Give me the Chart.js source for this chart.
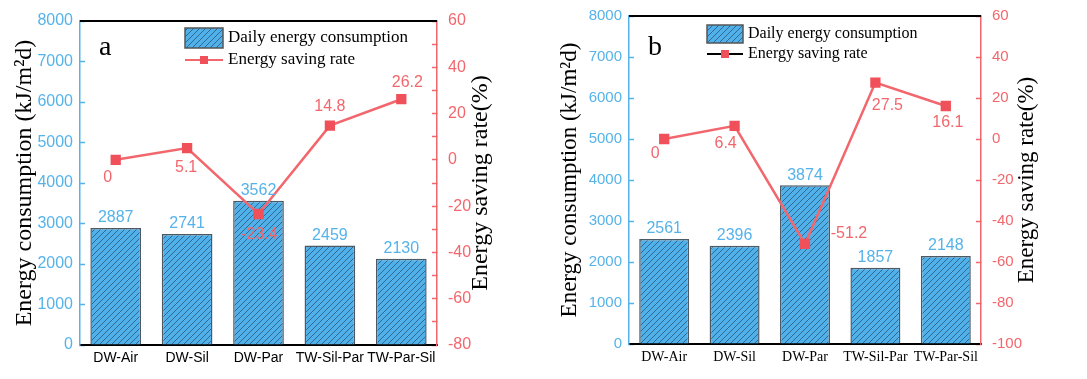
<!DOCTYPE html>
<html>
<head>
<meta charset="utf-8">
<script src="https://cdn.jsdelivr.net/npm/chart.js@4"></script>
<style>
  body { margin: 0; background: #fff; }
  .panel { position: absolute; top: 0; }
</style>
</head>
<body>
<div class="panel" style="left:0"><canvas id="chartA" width="540" height="379"></canvas></div>
<div class="panel" style="left:540px"><canvas id="chartB" width="547" height="379"></canvas></div>
<script>
const categories = ["DW-Air", "DW-Sil", "DW-Par", "TW-Sil-Par", "TW-Par-Sil"];

// panel a
const energyA = [2887, 2741, 3562, 2459, 2130];
const savingA = [0, 5.1, -23.4, 14.8, 26.2];
const savingRangeA = [-80, 60];

// panel b
const energyB = [2561, 2396, 3874, 1857, 2148];
const savingB = [0, 6.4, -51.2, 27.5, 16.1];
const savingRangeB = [-100, 60];

const energyRange = [0, 8000];

const BLUE = "#55b3ea";
const RED = "#f2676d";

function hatchPattern() {
  const c = document.createElement("canvas");
  c.width = 6;
  c.height = 6;
  const g = c.getContext("2d");
  g.fillStyle = "#4fb0ea";
  g.fillRect(0, 0, 6, 6);
  g.strokeStyle = "#2f6890";
  g.lineWidth = 1;
  g.beginPath();
  g.moveTo(0, 6); g.lineTo(6, 0);
  g.moveTo(-1, 1); g.lineTo(1, -1);
  g.moveTo(5, 7); g.lineTo(7, 5);
  g.stroke();
  return g.createPattern(c, "repeat");
}

const extrasPlugin = {
  id: "extras",
  afterDatasetsDraw(chart, args, o) {
    const ctx = chart.ctx;
    const area = chart.chartArea;
    ctx.save();

    // top frame line
    ctx.strokeStyle = "#000";
    ctx.lineWidth = 2;
    ctx.beginPath();
    ctx.moveTo(area.left, area.top);
    ctx.lineTo(area.right, area.top);
    ctx.stroke();

    // bar value labels
    const barMeta = chart.getDatasetMeta(0);
    ctx.font = o.valueFont + "px 'Liberation Sans', Arial, sans-serif";
    ctx.textAlign = "center";
    ctx.textBaseline = "middle";
    ctx.fillStyle = BLUE;
    barMeta.data.forEach((el, i) => {
      ctx.fillText(String(chart.data.datasets[0].data[i]), el.x, el.y - 10);
    });

    // saving rate labels
    const lineMeta = chart.getDatasetMeta(1);
    ctx.fillStyle = RED;
    lineMeta.data.forEach((el, i) => {
      const off = o.rateOffsets[i];
      ctx.fillText(String(chart.data.datasets[1].data[i]), el.x + off[0], el.y + off[1]);
    });

    // right axis title
    const right = chart.scales.y1;
    ctx.fillStyle = "#000";
    ctx.font = o.titleFont + "px 'Liberation Serif', 'Times New Roman', serif";
    ctx.translate(right.left + o.rightTitleOffset, (area.top + area.bottom) / 2);
    ctx.rotate(-Math.PI / 2);
    ctx.textAlign = "center";
    ctx.textBaseline = "middle";
    ctx.fillText("Energy saving rate(%)", 0, 0);
    ctx.restore();

    // legend
    const lg = o.legend;
    ctx.save();
    ctx.fillStyle = hatchPattern();
    ctx.fillRect(lg.x, lg.y, lg.w, lg.h);
    ctx.strokeStyle = "#555";
    ctx.lineWidth = 1.5;
    ctx.strokeRect(lg.x, lg.y, lg.w, lg.h);
    const ly = lg.y + lg.h / 2 + lg.gap;
    ctx.strokeStyle = lg.lineColor;
    ctx.lineWidth = 2;
    ctx.beginPath();
    ctx.moveTo(lg.x, ly);
    ctx.lineTo(lg.x + lg.w, ly);
    ctx.stroke();
    ctx.fillStyle = "#f0505a";
    ctx.fillRect(lg.x + lg.w / 2 - 4, ly - 4, 8, 8);
    ctx.fillStyle = "#000";
    ctx.font = lg.font + "px 'Liberation Serif', 'Times New Roman', serif";
    ctx.textAlign = "left";
    ctx.textBaseline = "middle";
    ctx.fillText("Daily energy consumption", lg.x + lg.w + 5, lg.y + lg.h / 2);
    ctx.fillText("Energy saving rate", lg.x + lg.w + 5, ly);

    // panel letter
    ctx.font = "28px 'Liberation Serif', 'Times New Roman', serif";
    ctx.textBaseline = "alphabetic";
    ctx.fillText(o.letter, o.letterPos[0], o.letterPos[1]);
    ctx.restore();
  },
};

function makeChart(id, energy, saving, savingRange, p) {
  return new Chart(document.getElementById(id), {
    data: {
      labels: categories,
      datasets: [
        {
          type: "bar",
          label: "Daily energy consumption",
          data: energy,
          yAxisID: "y",
          backgroundColor: hatchPattern(),
          borderColor: "#4d5a63",
          borderWidth: 1.5,
          categoryPercentage: 1,
          barPercentage: 0.71,
          order: 1,
        },
        {
          type: "line",
          label: "Energy saving rate",
          data: saving,
          yAxisID: "y1",
          borderColor: RED,
          borderWidth: 2.5,
          pointStyle: "rect",
          pointRadius: 5.5,
          pointBackgroundColor: "#f0505a",
          pointBorderColor: "#f0505a",
          tension: 0,
          order: 0,
        },
      ],
    },
    options: {
      responsive: false,
      animation: false,
      layout: { padding: { top: p.top, left: 0, right: 0, bottom: 0 } },
      plugins: {
        legend: { display: false },
        tooltip: { enabled: false },
        extras: p.extras,
      },
      scales: {
        x: {
          type: "category",
          offset: true,
          grid: { offset: false, drawOnChartArea: false, tickLength: -6, tickColor: "#333", tickWidth: 1.5 },
          border: { color: "#000", width: 2 },
          ticks: {
            color: "#000",
            padding: 11,
            maxRotation: 0,
            minRotation: 0,
            autoSkip: false,
            font: { size: 14, family: p.xFamily },
          },
          afterFit: (s) => {
            s.height = p.xHeight;
            s.paddingLeft = 0;
            s.paddingRight = 0;
          },
        },
        y: {
          position: "left",
          min: energyRange[0],
          max: energyRange[1],
          grid: { drawOnChartArea: false, tickLength: -5, tickColor: BLUE, tickWidth: 1.5 },
          border: { color: BLUE, width: 1.5 },
          ticks: {
            stepSize: 500,
            color: BLUE,
            padding: 12,
            font: { size: p.tickFont, family: "'Liberation Sans', Arial, sans-serif" },
            callback: (v) => (v % 1000 === 0 ? v : ""),
          },
          title: {
            display: true,
            text: "Energy consumption (kJ/m²d)",
            color: "#000",
            font: { size: p.titleFont, family: "'Liberation Serif', 'Times New Roman', serif" },
            padding: { top: p.leftTitlePad, bottom: 0 },
          },
          afterFit: (s) => {
            s.width = p.leftWidth;
            s.paddingTop = 0;
            s.paddingBottom = 0;
          },
        },
        y1: {
          position: "right",
          min: savingRange[0],
          max: savingRange[1],
          grid: { drawOnChartArea: false, tickLength: -5, tickColor: RED, tickWidth: 1.5 },
          border: { color: RED, width: 1.5 },
          ticks: {
            stepSize: 10,
            color: RED,
            padding: 16,
            font: { size: p.tickFont, family: "'Liberation Sans', Arial, sans-serif" },
            callback: (v) => (v % 20 === 0 ? v : ""),
          },
          afterFit: (s) => {
            s.width = p.rightWidth;
            s.paddingTop = 0;
            s.paddingBottom = 0;
          },
        },
      },
    },
    plugins: [extrasPlugin],
  });
}

makeChart("chartA", energyA, savingA, savingRangeA, {
  top: 21,
  xHeight: 34,
  leftWidth: 80,
  rightWidth: 103,
  tickFont: 16,
  titleFont: 24,
  leftTitlePad: 10,
  xFamily: "'Liberation Sans', Arial, sans-serif",
  extras: {
    valueFont: 16,
    titleFont: 24,
    rightTitleOffset: 44,
    rateOffsets: [[-8, 18], [-1, 20], [1, 21], [0, -19], [6, -17]],
    letter: "a",
    letterPos: [99, 55],
    legend: { x: 185, y: 28, w: 38, h: 20, gap: 22, font: 17, lineColor: RED },
  },
});

makeChart("chartB", energyB, savingB, savingRangeB, {
  top: 16,
  xHeight: 35,
  leftWidth: 89,
  rightWidth: 106,
  tickFont: 15,
  titleFont: 23,
  leftTitlePad: 16,
  xFamily: "'Liberation Serif', 'Times New Roman', serif",
  extras: {
    valueFont: 16,
    titleFont: 23,
    rightTitleOffset: 46,
    rateOffsets: [[-9, 15], [-9, 18], [44, -10], [12, 23], [2, 17]],
    letter: "b",
    letterPos: [108, 55],
    legend: { x: 167, y: 25, w: 36, h: 18, gap: 20, font: 16, lineColor: "#000" },
  },
});
</script>
</body>
</html>
